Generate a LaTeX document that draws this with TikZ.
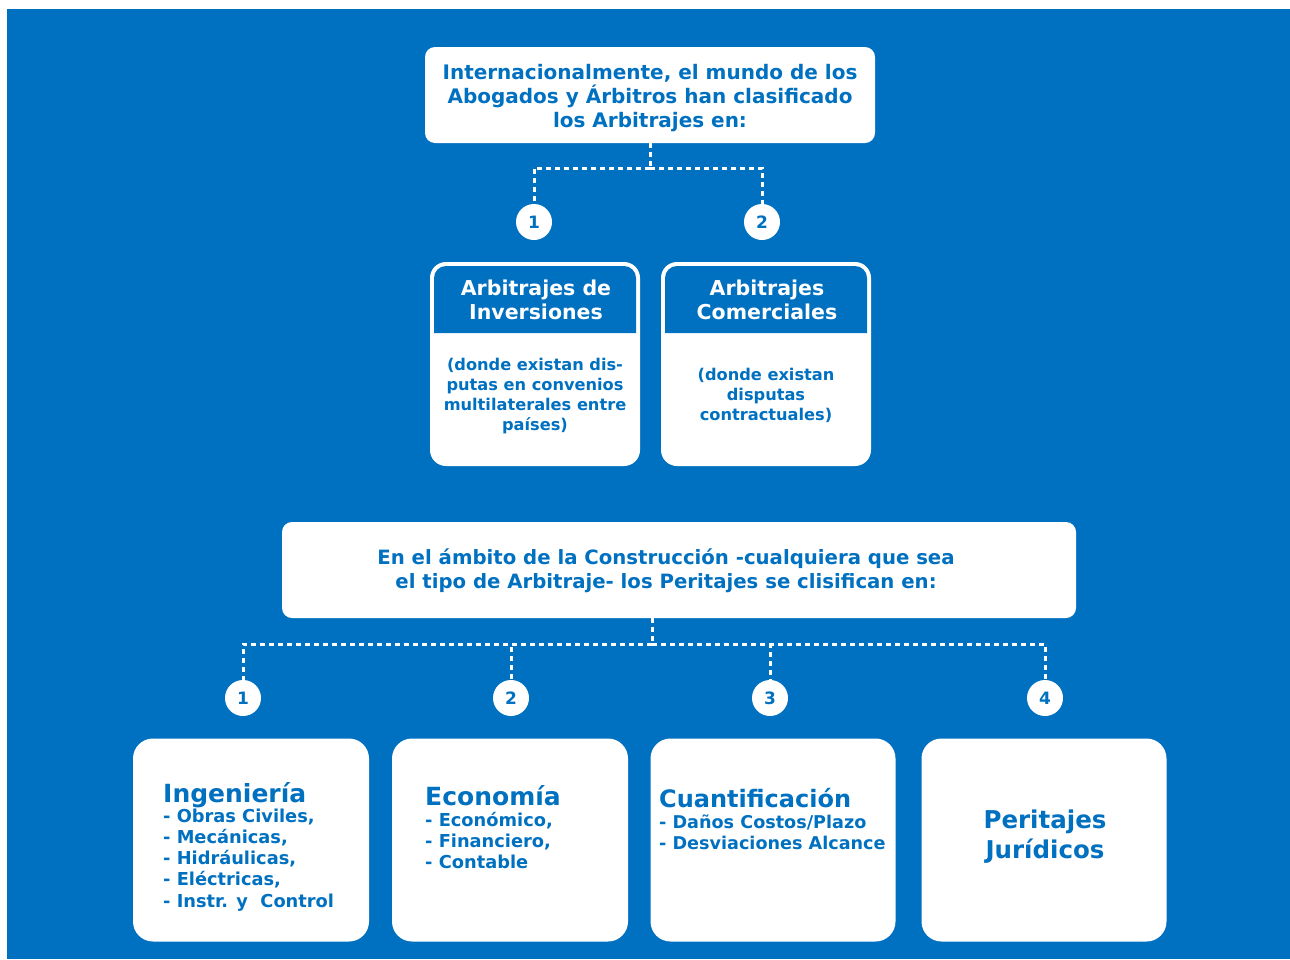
\documentclass[tikz,border=0pt]{standalone}
\usepackage{fontspec}
\setmainfont{DejaVu Sans}
\usetikzlibrary{positioning}

\definecolor{fondo}{HTML}{0070C0}

\tikzset{
	caja/.style={fill=white, rounded corners=#1, inner sep=0pt},
	caja/.default=10pt,
	numero/.style={circle, fill=white, text=fondo, minimum size=36pt, inner sep=0pt,
		font=\fontsize{17}{19}\selectfont\bfseries},
	punteado/.style={white, line width=3pt, dash pattern=on 5pt off 4pt}
}

\begin{document}
\begin{tikzpicture}[x=1pt, y=-1pt]
	\useasboundingbox (0,0) rectangle (1290,959);
	\fill[white] (0,0) rectangle (1290,959);
	\fill[fondo] (7,9) rectangle (1290,959);

	% arbitrajes
	\node[caja, minimum width=450pt, minimum height=96pt] (intro) at (650,95) {};
	\node[align=center, text=fondo, font=\fontsize{20}{24}\selectfont\bfseries] (intro-t) at (650,98)
		{Internacionalmente, el mundo de los\\Abogados y Árbitros han clasificado\\los Arbitrajes en:};
	\node[numero] (a1) at (534,222) {1};
	\node[numero] (a2) at (762,222) {2};
	\draw[punteado] (intro.south) -- ++(0,25) coordinate (ramaA);
	\draw[punteado] (ramaA) -| (a1.north);
	\draw[punteado] (ramaA) -| (a2.north);

	\node[caja=16pt, minimum width=210pt, minimum height=204pt] (inv) at (535,364) {};
	\node[caja=16pt, minimum width=210pt, minimum height=204pt] (com) at (766,364) {};
	\fill[fondo, rounded corners=12pt] (434,333) -- (434,266) -- (636,266) -- (636,333);
	\fill[fondo, rounded corners=12pt] (665,333) -- (665,266) -- (867,266) -- (867,333);
	\node[align=center, text=white, font=\fontsize{20.5}{24}\selectfont\bfseries] (inv-t) at (536,300)
		{Arbitrajes de\\Inversiones};
	\node[align=center, text=white, font=\fontsize{20.5}{24}\selectfont\bfseries] (com-t) at (767,300)
		{Arbitrajes\\Comerciales};
	\node[align=center, text=fondo, font=\fontsize{16.2}{20}\selectfont\bfseries] (inv-n) at (535,396)
		{(donde existan dis-\\putas en convenios\\multilaterales entre\\países)};
	\node[align=center, text=fondo, font=\fontsize{16.2}{20}\selectfont\bfseries] (com-n) at (766,395)
		{(donde existan\\disputas\\contractuales)};

	% peritajes
	\node[caja, minimum width=794pt, minimum height=96pt] (ambito) at (679,570) {};
	\node[align=center, text=fondo, font=\fontsize{19.7}{24}\selectfont\bfseries] (ambito-t) at (666,571)
		{En el ámbito de la Construcción -cualquiera que sea\\el tipo de Arbitraje- los Peritajes se clisifican en:};
	\node[numero] (p1) at (243,698) {1};
	\node[numero] (p2) at (511,698) {2};
	\node[numero] (p3) at (770,698) {3};
	\node[numero] (p4) at (1045,698) {4};
	\draw[punteado] ([xshift=-27pt]ambito.south) -- ++(0,26) coordinate (ramaB);
	\foreach \p in {p1,p2,p3,p4}
		\draw[punteado] (ramaB) -| (\p.north);

	\node[caja=20pt, minimum width=236pt, minimum height=203pt] (ing) at (251,840) {};
	\node[caja=20pt, minimum width=236pt, minimum height=203pt] (eco) at (510,840) {};
	\node[caja=20pt, minimum width=245pt, minimum height=203pt] (cua) at (773,840) {};
	\node[caja=20pt, minimum width=245pt, minimum height=203pt] (jur) at (1044,840) {};

	% base = ultima linea
	\node[anchor=base west, inner sep=0pt, text=fondo, font=\fontsize{25}{27}\selectfont\bfseries]
		(ing-t) at (163,802) {Ingeniería};
	\node[anchor=base west, inner sep=0pt, text=fondo, align=left, font=\fontsize{17.8}{21.2}\selectfont\bfseries]
		(ing-l) at (163,907) {- Obras Civiles,\\- Mecánicas,\\- Hidráulicas,\\- Eléctricas,\\- Instr. y~ Control};
	\node[anchor=base west, inner sep=0pt, text=fondo, font=\fontsize{25}{27}\selectfont\bfseries]
		(eco-t) at (425,805) {Economía};
	\node[anchor=base west, inner sep=0pt, text=fondo, align=left, font=\fontsize{17.8}{21}\selectfont\bfseries]
		(eco-l) at (425,868) {- Económico,\\- Financiero,\\- Contable};
	\node[anchor=base west, inner sep=0pt, text=fondo, font=\fontsize{24}{26}\selectfont\bfseries]
		(cua-t) at (659,807) {Cuantificación};
	\node[anchor=base west, inner sep=0pt, text=fondo, align=left, font=\fontsize{17.6}{21}\selectfont\bfseries]
		(cua-l) at (659,849) {- Daños Costos/Plazo\\- Desviaciones Alcance};
	\node[align=center, text=fondo, font=\fontsize{24.5}{30}\selectfont\bfseries] (jur-t) at (1045,837)
		{Peritajes\\Jurídicos};
\end{tikzpicture}
\end{document}
